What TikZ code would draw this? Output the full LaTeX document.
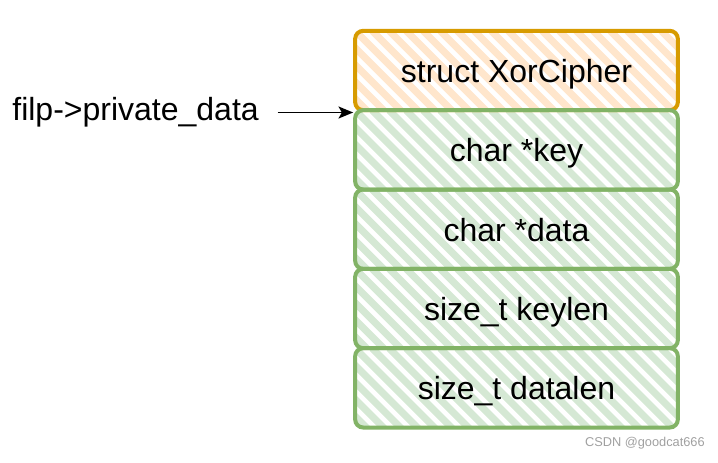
\documentclass[tikz,border=0pt]{standalone}
\usepackage{fontspec}
\setmainfont{Liberation Sans}
\usetikzlibrary{positioning,backgrounds,arrows.meta}
\definecolor{orangeline}{HTML}{D79B00}
\definecolor{orangehatch}{HTML}{FFE6CC}
\definecolor{greenline}{HTML}{82B366}
\definecolor{greenhatch}{HTML}{D5E8D4}
\definecolor{markgray}{HTML}{A0A0A0}

\begin{document}
\begin{tikzpicture}[x=0.75pt,y=-0.75pt,
  field/.style={minimum width=242pt,minimum height=59.5pt,inner sep=0pt,outer sep=0pt,
    text height=20pt,text depth=2pt,
    rounded corners=6pt,line width=3pt,font=\fontsize{24}{28}\selectfont},
  headfield/.style={field,draw=orangeline},
  memberfield/.style={field,draw=greenline},
  ptr/.style={-{Stealth[length=11pt,width=9pt,inset=2.5pt]},line width=1.4pt}]
\useasboundingbox (0,0) rectangle (718,462);
\node [headfield] (xorcipher) at (516.5,70.5) {struct XorCipher};
\node [memberfield,below=0pt of xorcipher] (key) {char *key};
\node [memberfield,below=0pt of key] (data) {char *data};
\node [memberfield,below=0pt of data] (keylen) {size\_t keylen};
\node [memberfield,below=0pt of keylen] (datalen) {size\_t datalen};
% hatching behind the fields
\begin{pgfonlayer}{background}
\foreach \cell/\hatch in {xorcipher/orangehatch,key/greenhatch,data/greenhatch,keylen/greenhatch,datalen/greenhatch}{
  \begin{scope}
  \clip [rounded corners=6pt] (\cell.north west) rectangle (\cell.south east);
  \foreach \s in {0,17,...,425}
    \draw [\hatch,line width=5.3pt] ([xshift=(\s-85)*0.75pt]\cell.north west) -- ++(85,85);
  \end{scope}
}
\end{pgfonlayer}
\node [anchor=east,inner sep=0pt,font=\fontsize{24}{28}\selectfont] (filp) at (259,112.5) {filp->private\_data};
\draw [ptr] ([xshift=14pt]filp.east) -- ([xshift=-1.5pt]filp.east -| key.west);
\node [anchor=east,inner sep=0pt,text=markgray,font=\fontsize{9.6}{11}\selectfont] (mark) at (705,443) {CSDN @goodcat666};
\end{tikzpicture}
\end{document}
